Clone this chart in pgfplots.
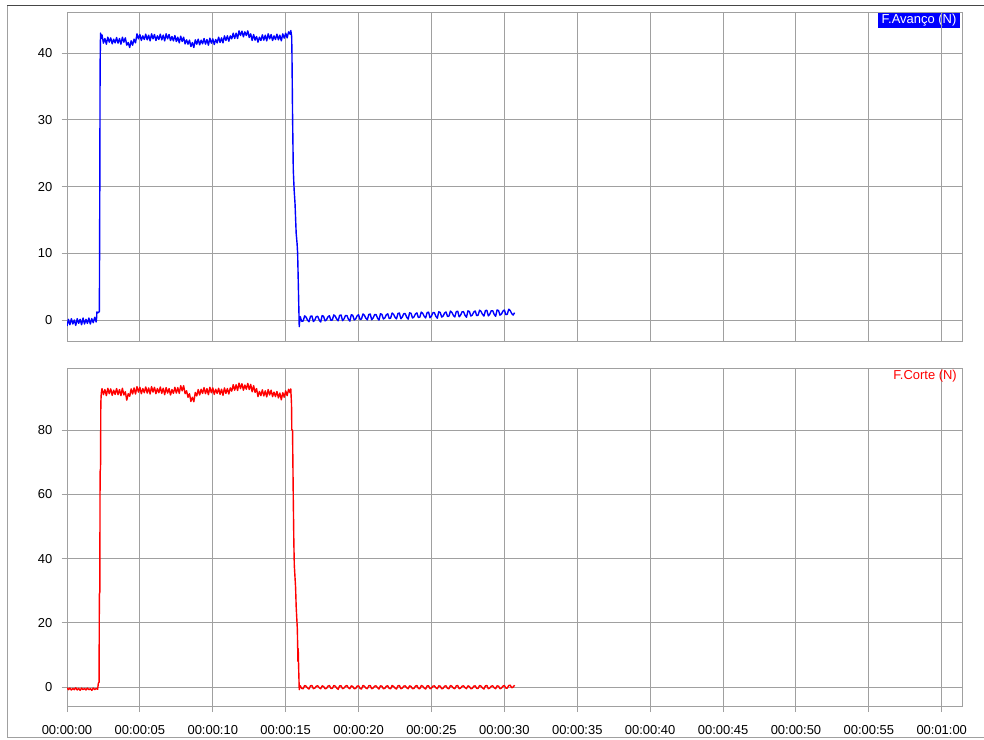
\documentclass[border=0pt]{standalone}
\usepackage{pgfplots}
\pgfplotsset{compat=1.18}
\usepackage{fontspec}
\setmainfont{Liberation Sans}
\definecolor{gridgray}{RGB}{160,160,160}
\definecolor{framedark}{RGB}{70,70,70}
\definecolor{fblue}{RGB}{0,0,255}
\definecolor{fred}{RGB}{255,0,0}
\pgfplotsset{
  myaxis/.style={
    scale only axis, width=895bp, xmin=0, xmax=61.39,
    axis line style={gridgray, line width=1bp},
    grid=major, major grid style={gridgray, line width=1bp},
    xtick={0,5,...,60},
    tick align=outside, major tick length=5.5bp,
    tick style={gridgray, line width=1bp},
    tick pos=left,
    /pgf/number format/assume math mode=true,
    ticklabel style={font=\fontsize{13}{15}\selectfont, text=black},
    yticklabel style={inner sep=0pt, xshift=-9bp},
    xticklabel style={inner sep=0pt, yshift=-13bp},
    clip=true,
  }
}
\begin{document}
\begin{tikzpicture}
\path[use as bounding box] (0bp,0bp) rectangle (984bp,-740bp);
\draw[framedark, line width=1bp] (7bp,-5.5bp) -- (984bp,-5.5bp);
\draw[gridgray, line width=1bp] (7.5bp,-5.5bp) -- (7.5bp,-737.5bp) -- (984bp,-737.5bp);

% ---------- top: F.Avanco ----------
\begin{axis}[myaxis,
  at={(67bp,-12.5bp)}, anchor=north west,
  height=329.2bp, ymin=-3.25, ymax=46.1,
  ytick={0,10,20,30,40},
  xticklabels={}, xtick style={draw=none},
]
\node[fill=fblue, text=white, anchor=north east, inner xsep=3.5bp, inner ysep=1.7bp,
  text height=9.2bp, text depth=2.6bp, font=\fontsize{13}{15}\selectfont]
  at (rel axis cs:0.9978,0.999) {F.Avanço (N)};
\draw[gridgray, line width=1bp] (axis cs:60,40) -- (axis cs:60,46.1);
\addplot[fblue, line width=1.4bp, line join=round] coordinates {
(0.0,-0.9)(0.1,0.1)(0.2,-0.7)(0.3,0.2)(0.4,-0.6)(0.5,0.0)(0.6,-0.8)(0.7,0.2)(0.8,-0.5)(0.9,0.1)
(1.0,-0.7)(1.1,0.3)(1.2,-0.6)(1.3,0.1)(1.4,-0.5)(1.5,0.3)(1.6,-0.6)(1.7,0.2)(1.8,-0.4)(1.9,0.4)
(2.0,-0.3)(2.03,0.3)(2.05,1.2)(2.15,1.1)(2.22,1.3)(2.25,19.5)(2.27,38)(2.3,43.0)(2.35,42.2)
(2.4,42.75)(2.5,41.5)(2.6,42.2)(2.7,41.35)(2.8,42.4)(2.9,41.65)(3.0,42.3)(3.1,41.4)(3.2,42.1)(3.3,41.55)
(3.4,42.35)(3.5,41.5)(3.6,42.2)(3.7,41.35)(3.8,42.4)(3.9,41.65)(4.0,42.3)(4.1,41.2)(4.2,41.6)(4.3,40.85)
(4.4,41.85)(4.5,41.2)(4.6,42.1)(4.7,41.55)(4.8,42.9)(4.9,42.15)(5.0,42.8)(5.1,41.9)(5.2,42.6)(5.3,42.05)
(5.4,42.85)(5.5,42.0)(5.6,42.7)(5.7,41.85)(5.8,42.9)(5.9,42.15)(6.0,42.8)(6.1,41.9)(6.2,42.6)(6.3,42.05)
(6.4,42.85)(6.5,42.0)(6.6,42.7)(6.7,41.85)(6.8,42.9)(6.9,42.15)(7.0,42.8)(7.1,41.9)(7.2,42.5)(7.3,41.85)
(7.4,42.65)(7.5,41.75)(7.6,42.4)(7.7,41.55)(7.8,42.55)(7.9,41.75)(8.0,42.4)(8.1,41.4)(8.2,42.0)(8.3,41.35)
(8.4,41.95)(8.5,41.0)(8.6,41.6)(8.7,40.85)(8.8,42.0)(8.9,41.35)(9.0,42.1)(9.1,41.25)(9.2,41.95)(9.3,41.4)
(9.4,42.2)(9.5,41.35)(9.6,42.05)(9.7,41.2)(9.8,42.25)(9.9,41.5)(10.0,42.15)(10.1,41.3)(10.2,42.05)(10.3,41.55)
(10.4,42.4)(10.5,41.6)(10.6,42.3)(10.7,41.55)(10.8,42.6)(10.9,41.9)(11.0,42.6)(11.1,41.8)(11.2,42.6)(11.3,42.15)
(11.4,43.0)(11.5,42.2)(11.6,43.0)(11.7,42.2)(11.8,43.35)(11.9,42.65)(12.0,43.3)(12.1,42.45)(12.2,43.2)(12.3,42.65)
(12.4,43.35)(12.5,42.35)(12.6,42.9)(12.7,41.9)(12.8,42.8)(12.9,41.95)(13.0,42.5)(13.1,41.65)(13.2,42.4)(13.3,41.9)
(13.4,42.75)(13.5,41.95)(13.6,42.7)(13.7,41.85)(13.8,42.9)(13.9,42.15)(14.0,42.8)(14.1,41.9)(14.2,42.6)(14.3,42.05)
(14.4,42.85)(14.5,42.0)(14.6,42.7)(14.7,41.85)(14.8,42.9)(14.9,42.25)(15.0,43.0)(15.1,42.3)(15.2,43.2)(15.3,42.85)
(15.35,43.4)(15.41,42.5)(15.43,40.0)(15.47,31)(15.50,26)(15.52,22.6)(15.58,19.5)(15.64,17.5)(15.72,13)(15.78,11.5)
(15.82,10)(15.87,5)(15.91,1)(15.93,-1.0)(15.97,0.2)
(16.0,0.50)(16.1,-0.20)(16.2,-0.14)(16.3,0.62)(16.4,0.43)(16.5,-0.01)(16.6,-0.26)(16.7,0.55)(16.8,0.61)(16.9,-0.23)
(17.0,0.02)(17.1,0.53)(17.2,0.54)(17.3,0.00)(17.4,-0.30)(17.5,0.66)(17.6,0.56)(17.7,-0.13)(17.8,0.03)(17.9,0.49)
(18.0,0.64)(18.1,-0.05)(18.2,0.01)(18.3,0.77)(18.4,0.57)(18.5,0.13)(18.6,-0.11)(18.7,0.69)(18.8,0.75)(18.9,-0.09)
(19.0,0.16)(19.1,0.67)(19.2,0.68)(19.3,0.14)(19.4,-0.16)(19.5,0.80)(19.6,0.71)(19.7,0.01)(19.8,0.17)(19.9,0.63)
(20.0,0.79)(20.1,0.09)(20.2,0.15)(20.3,0.91)(20.4,0.71)(20.5,0.27)(20.6,0.03)(20.7,0.83)(20.8,0.89)(20.9,0.05)
(21.0,0.31)(21.1,0.81)(21.2,0.82)(21.3,0.28)(21.4,-0.01)(21.5,0.94)(21.6,0.85)(21.7,0.16)(21.8,0.31)(21.9,0.77)
(22.0,0.93)(22.1,0.24)(22.2,0.29)(22.3,1.05)(22.4,0.86)(22.5,0.41)(22.6,0.17)(22.7,0.98)(22.8,1.04)(22.9,0.19)
(23.0,0.45)(23.1,0.96)(23.2,0.96)(23.3,0.42)(23.4,0.13)(23.5,1.09)(23.6,0.99)(23.7,0.30)(23.8,0.46)(23.9,0.91)
(24.0,1.07)(24.1,0.38)(24.2,0.44)(24.3,1.19)(24.4,1.00)(24.5,0.56)(24.6,0.31)(24.7,1.12)(24.8,1.18)(24.9,0.34)
(25.0,0.59)(25.1,1.10)(25.2,1.11)(25.3,0.56)(25.4,0.27)(25.5,1.23)(25.6,1.14)(25.7,0.44)(25.8,0.60)(25.9,1.06)
(26.0,1.21)(26.1,0.52)(26.2,0.58)(26.3,1.34)(26.4,1.14)(26.5,0.70)(26.6,0.46)(26.7,1.26)(26.8,1.32)(26.9,0.48)
(27.0,0.74)(27.1,1.24)(27.2,1.25)(27.3,0.71)(27.4,0.41)(27.5,1.37)(27.6,1.28)(27.7,0.59)(27.8,0.74)(27.9,1.20)
(28.0,1.36)(28.1,0.66)(28.2,0.72)(28.3,1.48)(28.4,1.29)(28.5,0.84)(28.6,0.60)(28.7,1.41)(28.8,1.46)(28.9,0.62)
(29.0,0.88)(29.1,1.39)(29.2,1.39)(29.3,0.85)(29.4,0.56)(29.5,1.51)(29.6,1.42)(29.7,0.73)(29.8,0.89)(29.9,1.34)
(30.0,1.50)(30.1,0.81)(30.2,0.86)(30.3,1.62)(30.4,1.43)(30.5,0.99)(30.6,0.74)(30.7,1.1)
};
\end{axis}

% ---------- bottom: F.Corte ----------
\begin{axis}[myaxis,
  at={(67bp,-368bp)}, anchor=north west,
  height=338.7bp, ymin=-6.1, ymax=99.3,
  ytick={0,20,40,60,80},
  xticklabels={00:00:00,00:00:05,00:00:10,00:00:15,00:00:20,00:00:25,00:00:30,00:00:35,00:00:40,00:00:45,00:00:50,00:00:55,00:01:00},
]
\node[text=fred, anchor=north east, inner sep=0pt,
  text height=9.2bp, text depth=2.6bp, font=\fontsize{13}{15}\selectfont]
  at (rel axis cs:0.9944,0.993) {F.Corte (N)};
\addplot[fred, line width=1.4bp, line join=round] coordinates {
(0.0,-0.2)(0.1,-0.8)(0.2,-0.3)(0.3,-0.9)(0.4,-0.4)(0.5,-0.8)(0.6,-0.2)(0.7,-0.9)(0.8,-0.4)(0.9,-1.0)
(1.0,-0.3)(1.1,-0.8)(1.2,-0.4)(1.3,-0.9)(1.4,-0.3)(1.5,-0.8)(1.6,-0.5)(1.7,-1.0)(1.8,-0.3)(1.9,-0.8)
(2.0,-0.4)(2.1,-0.7)(2.15,1.2)(2.2,1.5)(2.22,29)(2.25,29.5)(2.27,67)(2.3,68)(2.32,88.3)(2.35,91.4)
(2.4,92.9)(2.5,91.0)(2.6,92.6)(2.7,90.7)(2.8,93.0)(2.9,91.3)(3.0,92.8)(3.1,90.8)(3.2,92.4)(3.3,91.1)
(3.4,92.9)(3.5,91.0)(3.6,92.6)(3.7,90.7)(3.8,93.0)(3.9,90.9)(4.0,91.9)(4.1,89.3)(4.2,91.3)(4.3,90.5)
(4.4,92.8)(4.5,91.2)(4.6,93.1)(4.7,91.2)(4.8,93.5)(4.9,91.8)(5.0,93.3)(5.1,91.3)(5.2,92.9)(5.3,91.6)
(5.4,93.4)(5.5,91.5)(5.6,93.1)(5.7,91.2)(5.8,93.5)(5.9,91.8)(6.0,93.3)(6.1,91.3)(6.2,92.9)(6.3,91.6)
(6.4,93.4)(6.5,91.4)(6.6,93.0)(6.7,91.0)(6.8,93.2)(6.9,91.5)(7.0,92.9)(7.1,90.9)(7.2,92.6)(7.3,91.4)
(7.4,93.3)(7.5,91.5)(7.6,93.2)(7.7,91.4)(7.8,93.8)(7.9,92.2)(8.0,93.8)(8.1,91.3)(8.2,92.2)(8.3,90.2)
(8.4,91.3)(8.5,88.9)(8.6,90.2)(8.7,88.8)(8.8,91.7)(8.9,90.6)(9.0,92.6)(9.1,90.9)(9.2,92.7)(9.3,91.4)
(9.4,93.2)(9.5,91.3)(9.6,92.9)(9.7,91.0)(9.8,93.3)(9.9,91.6)(10.0,93.1)(10.1,91.1)(10.2,92.7)(10.3,91.4)
(10.4,93.0)(10.5,91.1)(10.6,92.7)(10.7,90.8)(10.8,93.1)(10.9,91.4)(11.0,92.9)(11.1,91.2)(11.2,93.1)(11.3,92.1)
(11.4,94.1)(11.5,92.4)(11.6,94.1)(11.7,92.3)(11.8,94.6)(11.9,92.9)(12.0,94.4)(12.1,92.4)(12.2,94.0)(12.3,92.7)
(12.4,94.5)(12.5,92.6)(12.6,94.2)(12.7,91.9)(12.8,93.8)(12.9,91.7)(13.0,92.9)(13.1,90.4)(13.2,92.0)(13.3,90.7)
(13.4,92.5)(13.5,90.6)(13.6,92.2)(13.7,90.3)(13.8,92.6)(13.9,90.9)(14.0,92.4)(14.1,90.4)(14.2,91.8)(14.3,90.4)
(14.4,92.0)(14.5,90.0)(14.6,91.5)(14.7,89.4)(14.8,91.6)(14.9,90.2)(15.0,92.2)(15.1,90.7)(15.2,92.7)(15.3,91.6)
(15.35,92.8)(15.40,88)(15.42,80)(15.47,80)(15.52,59)(15.56,45)(15.59,38)(15.68,31)(15.72,25)(15.80,18)
(15.84,8)(15.86,12)(15.89,6)(15.93,-0.8)(15.97,0.3)
(16.0,0.4)(16.1,-0.4)(16.2,-0.5)(16.3,0.5)(16.4,0.3)(16.5,-0.3)(16.6,-0.6)(16.7,0.4)(16.8,0.5)(16.9,-0.5)
(17.0,-0.3)(17.1,0.3)(17.2,0.4)(17.3,-0.2)(17.4,-0.5)(17.5,0.4)(17.6,0.2)(17.7,-0.5)(17.8,-0.4)(17.9,0.3)
(18.0,0.5)(18.1,-0.4)(18.2,-0.4)(18.3,0.5)(18.4,0.3)(18.5,-0.3)(18.6,-0.7)(18.7,0.4)(18.8,0.4)(18.9,-0.5)
(19.0,-0.3)(19.1,0.3)(19.2,0.5)(19.3,-0.2)(19.4,-0.5)(19.5,0.4)(19.6,0.2)(19.7,-0.5)(19.8,-0.4)(19.9,0.3)
(20.0,0.4)(20.1,-0.4)(20.2,-0.6)(20.3,0.5)(20.4,0.3)(20.5,-0.3)(20.6,-0.5)(20.7,0.4)(20.8,0.5)(20.9,-0.5)
(21.0,-0.3)(21.1,0.3)(21.2,0.4)(21.3,-0.2)(21.4,-0.6)(21.5,0.4)(21.6,0.3)(21.7,-0.5)(21.8,-0.4)(21.9,0.3)
(22.0,0.4)(22.1,-0.4)(22.2,-0.5)(22.3,0.5)(22.4,0.2)(22.5,-0.3)(22.6,-0.6)(22.7,0.4)(22.8,0.5)(22.9,-0.5)
(23.0,-0.3)(23.1,0.3)(23.2,0.4)(23.3,-0.2)(23.4,-0.5)(23.5,0.4)(23.6,0.2)(23.7,-0.5)(23.8,-0.4)(23.9,0.3)
(24.0,0.5)(24.1,-0.4)(24.2,-0.5)(24.3,0.5)(24.4,0.3)(24.5,-0.3)(24.6,-0.6)(24.7,0.4)(24.8,0.4)(24.9,-0.5)
(25.0,-0.3)(25.1,0.3)(25.2,0.4)(25.3,-0.2)(25.4,-0.5)(25.5,0.4)(25.6,0.3)(25.7,-0.5)(25.8,-0.4)(25.9,0.3)
(26.0,0.4)(26.1,-0.4)(26.2,-0.5)(26.3,0.5)(26.4,0.3)(26.5,-0.3)(26.6,-0.5)(26.7,0.4)(26.8,0.5)(26.9,-0.5)
(27.0,-0.3)(27.1,0.3)(27.2,0.4)(27.3,-0.2)(27.4,-0.5)(27.5,0.4)(27.6,0.2)(27.7,-0.5)(27.8,-0.4)(27.9,0.3)
(28.0,0.4)(28.1,-0.4)(28.2,-0.4)(28.3,0.5)(28.4,0.3)(28.5,-0.3)(28.6,-0.6)(28.7,0.4)(28.8,0.5)(28.9,-0.5)
(29.0,-0.3)(29.1,0.3)(29.2,0.4)(29.3,-0.2)(29.4,-0.5)(29.5,0.4)(29.6,0.3)(29.7,-0.5)(29.8,-0.3)(29.9,0.3)
(30.0,0.5)(30.1,-0.3)(30.2,-0.3)(30.3,0.5)(30.4,0.6)(30.5,-0.2)(30.6,0.0)(30.7,0.6)
};
\end{axis}
\end{tikzpicture}
\end{document}
